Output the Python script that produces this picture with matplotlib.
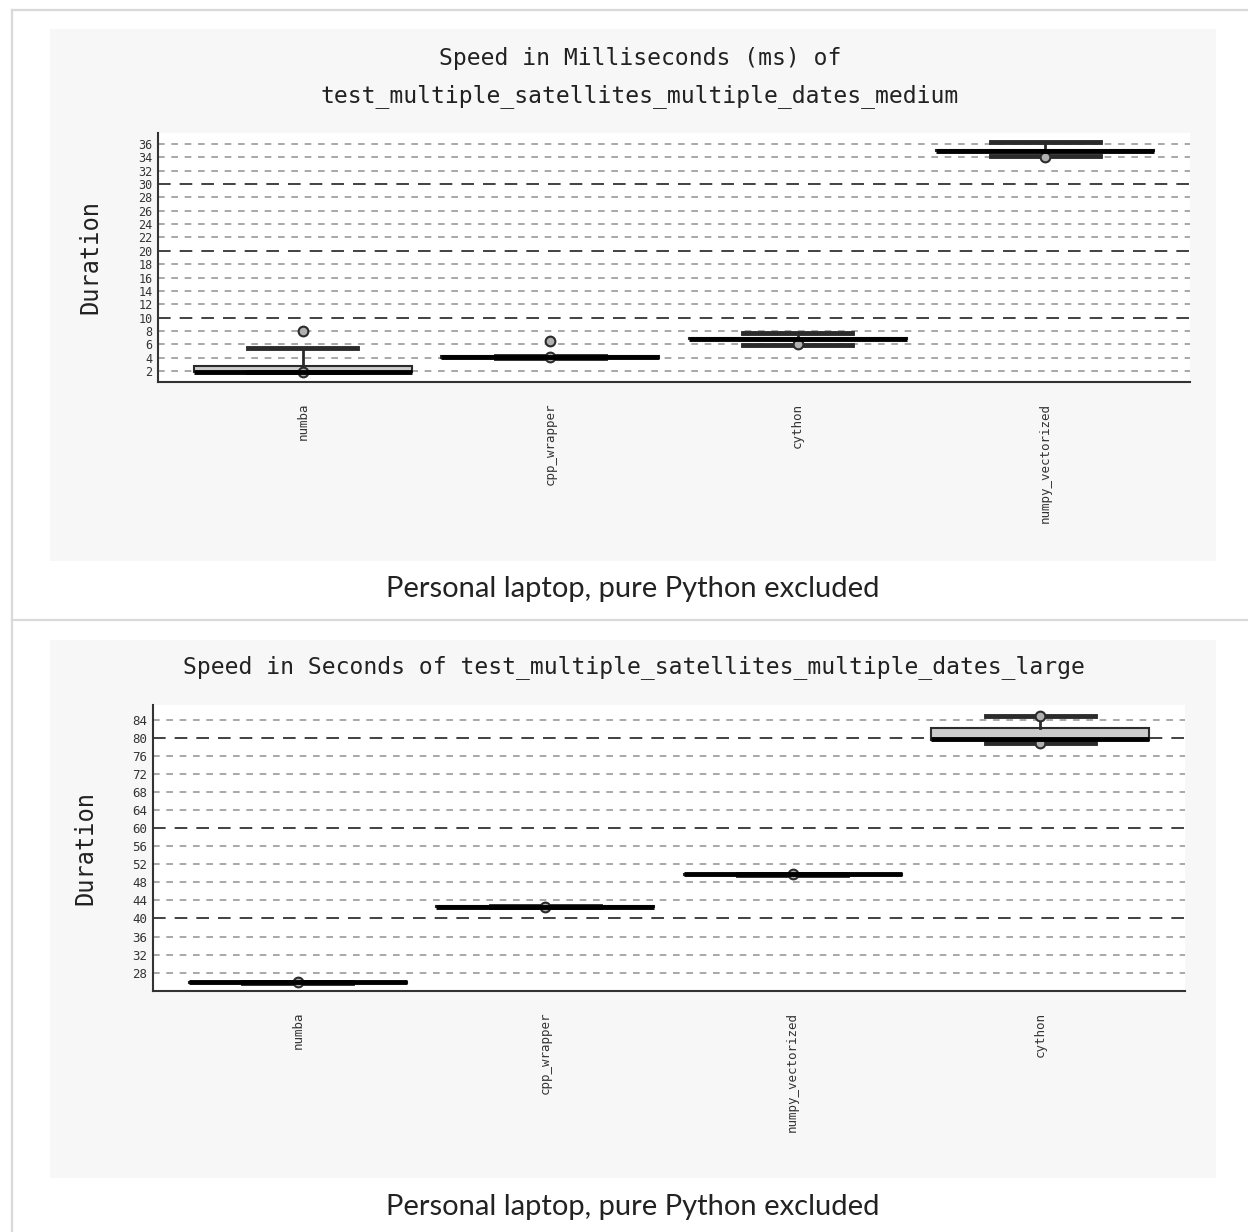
import numpy as np
import matplotlib
matplotlib.use("Agg")
import matplotlib.pyplot as plt
from matplotlib.patches import Rectangle
from matplotlib.lines import Line2D

W, H = 1248, 1232

# medium test, durations in ms
groups_medium = ["numba", "cpp_wrapper", "cython", "numpy_vectorized"]
medium_q1 = [1.8, 4.0, 6.75, 34.9]
medium_med = [1.85, 4.1, 6.85, 35.0]
medium_q3 = [2.75, 4.2, 6.95, 35.1]
medium_lo = [1.8, 4.0, 5.95, 34.2]
medium_hi = [5.45, 4.2, 7.65, 36.3]
medium_points = [[7.95, 1.85], [6.45, 4.05], [6.0], [34.1]]
medium_yticks = list(range(2, 37, 2))
medium_dark = [10, 20, 30]

# large test, durations in s
groups_large = ["numba", "cpp_wrapper", "numpy_vectorized", "cython"]
large_q1 = [25.8, 42.5, 49.7, 79.6]
large_med = [25.9, 42.6, 49.8, 79.7]
large_q3 = [26.0, 42.7, 49.9, 82.3]
large_lo = [25.8, 42.5, 49.7, 78.9]
large_hi = [26.0, 42.7, 49.9, 84.9]
large_points = [[25.9], [42.6], [49.8], [84.9, 78.9]]
large_yticks = list(range(28, 85, 4))
large_dark = [40, 60, 80]

MONO = "DejaVu Sans Mono"
caption = "Personal laptop, pure Python excluded"


def fx(px):
    return px / W


def fy(py):
    return 1 - py / H


def make_stats(q1, med, q3, lo, hi, pts):
    return [dict(q1=a, med=b, q3=c, whislo=d, whishi=e, fliers=f)
            for a, b, c, d, e, f in zip(q1, med, q3, lo, hi, pts)]


def draw_panel(fig, rect, stats, groups, yticks, dark, ylim, tick_size, label_x):
    l, t, r, b = rect
    ax = fig.add_axes([fx(l), fy(b), (r - l) / W, (b - t) / H])
    ax.set_facecolor("white")
    ax.bxp(stats, positions=range(len(groups)), widths=0.88, patch_artist=True,
           boxprops=dict(facecolor="#cccccc", edgecolor="#2b2b2b", linewidth=1.5),
           medianprops=dict(color="black", linewidth=3.5, solid_capstyle="butt"),
           whiskerprops=dict(color="#2b2b2b", linewidth=2),
           capprops=dict(color="#2b2b2b", linewidth=3.5),
           flierprops=dict(marker="o", markerfacecolor="#b0b0b0",
                           markeredgecolor="#2b2b2b", markersize=7,
                           markeredgewidth=1.5))
    for v in yticks:
        if v not in dark:
            ax.axhline(v, color="#999999", lw=1.2, ls=(0, (4, 4)), zorder=0.5)
    for v in dark:
        ax.axhline(v, color="#333333", lw=1.3, ls=(0, (7, 5)), zorder=0.6)
    ax.set_ylim(*ylim)
    ax.set_xlim(-0.585, len(groups) - 1 + 0.585)
    ax.set_yticks(yticks)
    ax.set_yticklabels([str(v) for v in yticks], family=MONO, size=tick_size, color="#333333")
    ax.set_xticks(range(len(groups)))
    ax.set_xticklabels(groups, rotation=90, family=MONO, size=9, color="#333333", va="top")
    ax.tick_params(axis="both", length=0)
    ax.tick_params(axis="x", pad=15)
    ax.tick_params(axis="y", pad=4)
    for s in ["top", "right"]:
        ax.spines[s].set_visible(False)
    for s in ["left", "bottom"]:
        ax.spines[s].set_color("#333333")
        ax.spines[s].set_linewidth(1.5)
    ax.set_ylabel("Duration", family=MONO, size=17, color="#222222")
    ax.yaxis.set_label_coords(-(l - label_x) / (r - l), 0.5)
    return ax


fig = plt.figure(figsize=(W / 100, H / 100), dpi=100)
fig.patch.set_facecolor("white")

# outer frame and panel backgrounds
border = "#d9d9d9"
fig.add_artist(Line2D([fx(12), fx(12)], [fy(10), fy(1232)], transform=fig.transFigure, color=border, lw=1.6))
fig.add_artist(Line2D([fx(12), fx(1248)], [fy(10), fy(10)], transform=fig.transFigure, color=border, lw=1.6))
fig.add_artist(Line2D([fx(12), fx(1248)], [fy(620), fy(620)], transform=fig.transFigure, color=border, lw=1.6))
for top, bot in [(29, 561), (640, 1178)]:
    fig.add_artist(Rectangle((fx(50), fy(bot)), (1216 - 50) / W, (bot - top) / H,
                             transform=fig.transFigure, facecolor="#f7f7f7", edgecolor="none", zorder=0))

draw_panel(fig, (158, 133, 1190, 382),
           make_stats(medium_q1, medium_med, medium_q3, medium_lo, medium_hi, medium_points),
           groups_medium, medium_yticks, medium_dark, (0.35, 37.65), 8.5, 102)
draw_panel(fig, (153, 705, 1185, 991),
           make_stats(large_q1, large_med, large_q3, large_lo, large_hi, large_points),
           groups_large, large_yticks, large_dark, (23.93, 87.3), 9, 97)

fig.text(fx(640), fy(58), "Speed in Milliseconds (ms) of", ha="center", va="center",
         family=MONO, size=16.6, color="#222222")
fig.text(fx(640), fy(96), "test_multiple_satellites_multiple_dates_medium", ha="center", va="center",
         family=MONO, size=16.6, color="#222222")
fig.text(fx(634), fy(667), "Speed in Seconds of test_multiple_satellites_multiple_dates_large",
         ha="center", va="center", family=MONO, size=16.6, color="#222222")

fig.text(fx(633), fy(589), caption, ha="center", va="center", family="Lato", size=21, color="#222222")
fig.text(fx(633), fy(1207), caption, ha="center", va="center", family="Lato", size=21, color="#222222")

fig.savefig("out.png", dpi=100, facecolor=fig.get_facecolor())
